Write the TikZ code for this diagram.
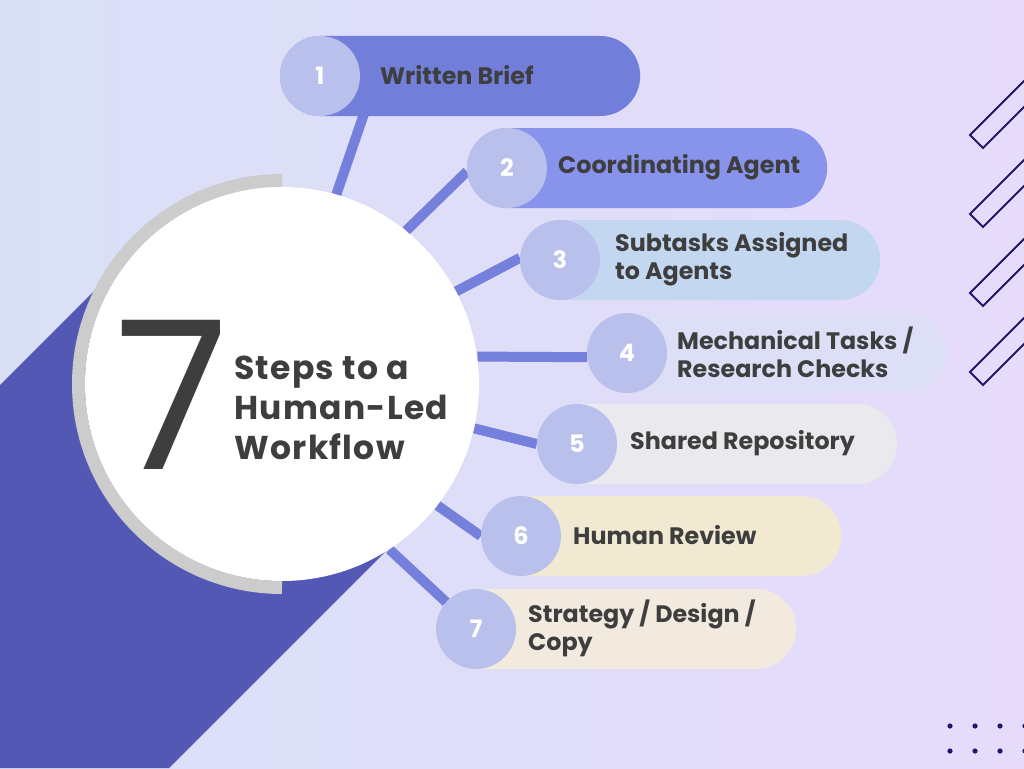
\documentclass[tikz,border=0pt]{standalone}
\usepackage{fontspec}
\setmainfont{Poppins}
\newfontfamily\titlefont{Poppins}[LetterSpace=4]

\definecolor{bgleft}{HTML}{D9E0F6}
\definecolor{bgright}{HTML}{E6DBFB}
\definecolor{band}{HTML}{5358B4}
\definecolor{ringgray}{HTML}{CCCCCC}
\definecolor{linkblue}{HTML}{7480DB}
\definecolor{numfill}{HTML}{B8C0EB}
\definecolor{darktext}{HTML}{3E3E3E}
\definecolor{navy}{HTML}{24146B}
\definecolor{pillA}{HTML}{727FDA}
\definecolor{pillB}{HTML}{8893EC}
\definecolor{pillC}{HTML}{C4D7F1}
\definecolor{pillD}{HTML}{DCDFF6}
\definecolor{pillE}{HTML}{EAEAEE}
\definecolor{pillF}{HTML}{F1E9D2}
\definecolor{pillG}{HTML}{F3EADF}

\pgfdeclarelayer{back}
\pgfdeclarelayer{links}
\pgfsetlayers{back,links,main}

\tikzset{
  pill/.style={rectangle, rounded corners=40pt, minimum height=80pt, minimum width=360pt, inner sep=0pt, anchor=west},
  num/.style={circle, fill=numfill, minimum size=80pt, inner sep=0pt, text=white, font=\fontsize{24}{24}\selectfont\bfseries},
  steptext/.style={anchor=west, align=left, inner sep=0pt, text=darktext, font=\fontsize{23.8}{28}\selectfont\bfseries},
  link/.style={draw=linkblue, line width=10pt},
  slash/.style={draw=navy, line width=1.8pt, line join=miter},
}

\begin{document}
\begin{tikzpicture}[x=1pt, y=-1pt]
    \useasboundingbox (0,0) rectangle (1024,768);

    % backdrop
    \begin{pgfonlayer}{back}
        \shade[left color=bgleft, right color=bgright] (0,0) rectangle (1024,768);
        \fill[band] (0,385) -- (141.5,243.5) -- (417.5,519.5) -- (169,768) -- (0,768) -- cycle;
        \draw[ringgray, line width=13pt] (282,384) ++(270:203.5) arc (270:90:203.5);
        \foreach \c in {135,214,293,372}
            \draw[slash] (1034,\c-64) -- (970,\c) -- (983,\c+13) -- (1034,\c-38);
        \foreach \x in {950,975,1000,1025}
            \foreach \y in {726,751}
                \fill[navy] (\x,\y) circle (2.6);
    \end{pgfonlayer}

    % hub
    \node[circle, fill=white, minimum size=394pt, inner sep=0pt] (hub) at (282,384) {};
    \node[inner sep=0pt, text=darktext, font=\fontsize{207}{207}\selectfont] (seven) at (172,395) {7};
    \node[anchor=north west, align=left, inner sep=0pt, text=darktext, font=\fontsize{33}{40}\selectfont\titlefont\bfseries] (title) at (234,356) {Steps to a\\Human-Led\\Workflow};

    % steps
    \node[pill, fill=pillA] (p1) at (280,76) {};
    \node[num] (n1) at (320,76) {1};
    \node[steptext] (t1) at (380,75) {Written Brief};

    \node[pill, fill=pillB] (p2) at (467,168) {};
    \node[num] (n2) at (507,168) {2};
    \node[steptext] (t2) at (558,167) {Coordinating Agent};

    \node[pill, fill=pillC] (p3) at (520,260) {};
    \node[num] (n3) at (560,260) {3};
    \node[steptext] (t3) at (615,259) {Subtasks Assigned\\to Agents};

    \node[pill, fill=pillD] (p4) at (587,353) {};
    \node[num] (n4) at (627,353) {4};
    \node[steptext] (t4) at (677,352) {Mechanical Tasks /\\Research Checks};

    \node[pill, fill=pillE] (p5) at (537,444) {};
    \node[num] (n5) at (577,444) {5};
    \node[steptext] (t5) at (630,443) {Shared Repository};

    \node[pill, fill=pillF] (p6) at (481,536) {};
    \node[num] (n6) at (521,536) {6};
    \node[steptext] (t6) at (573,535) {Human Review};

    \node[pill, fill=pillG] (p7) at (436,629) {};
    \node[num] (n7) at (476,629) {7};
    \node[steptext] (t7) at (528,628) {Strategy / Design /\\Copy};

    \coordinate (e1) at (367,105);

    % connectors
    \begin{pgfonlayer}{links}
        \draw[link] (hub.74) -- (e1);
        \draw[link] (hub.51) -- (n2.185);
        \draw[link] (hub.28) -- (n3.177);
        \draw[link] (hub.8) -- (n4.186);
        \draw[link] (hub.-13.5) -- (n5.180);
        \draw[link] (hub.-38) -- (n6.west);
        \draw[link] (hub.-57) -- (n7.138);
    \end{pgfonlayer}
\end{tikzpicture}
\end{document}
